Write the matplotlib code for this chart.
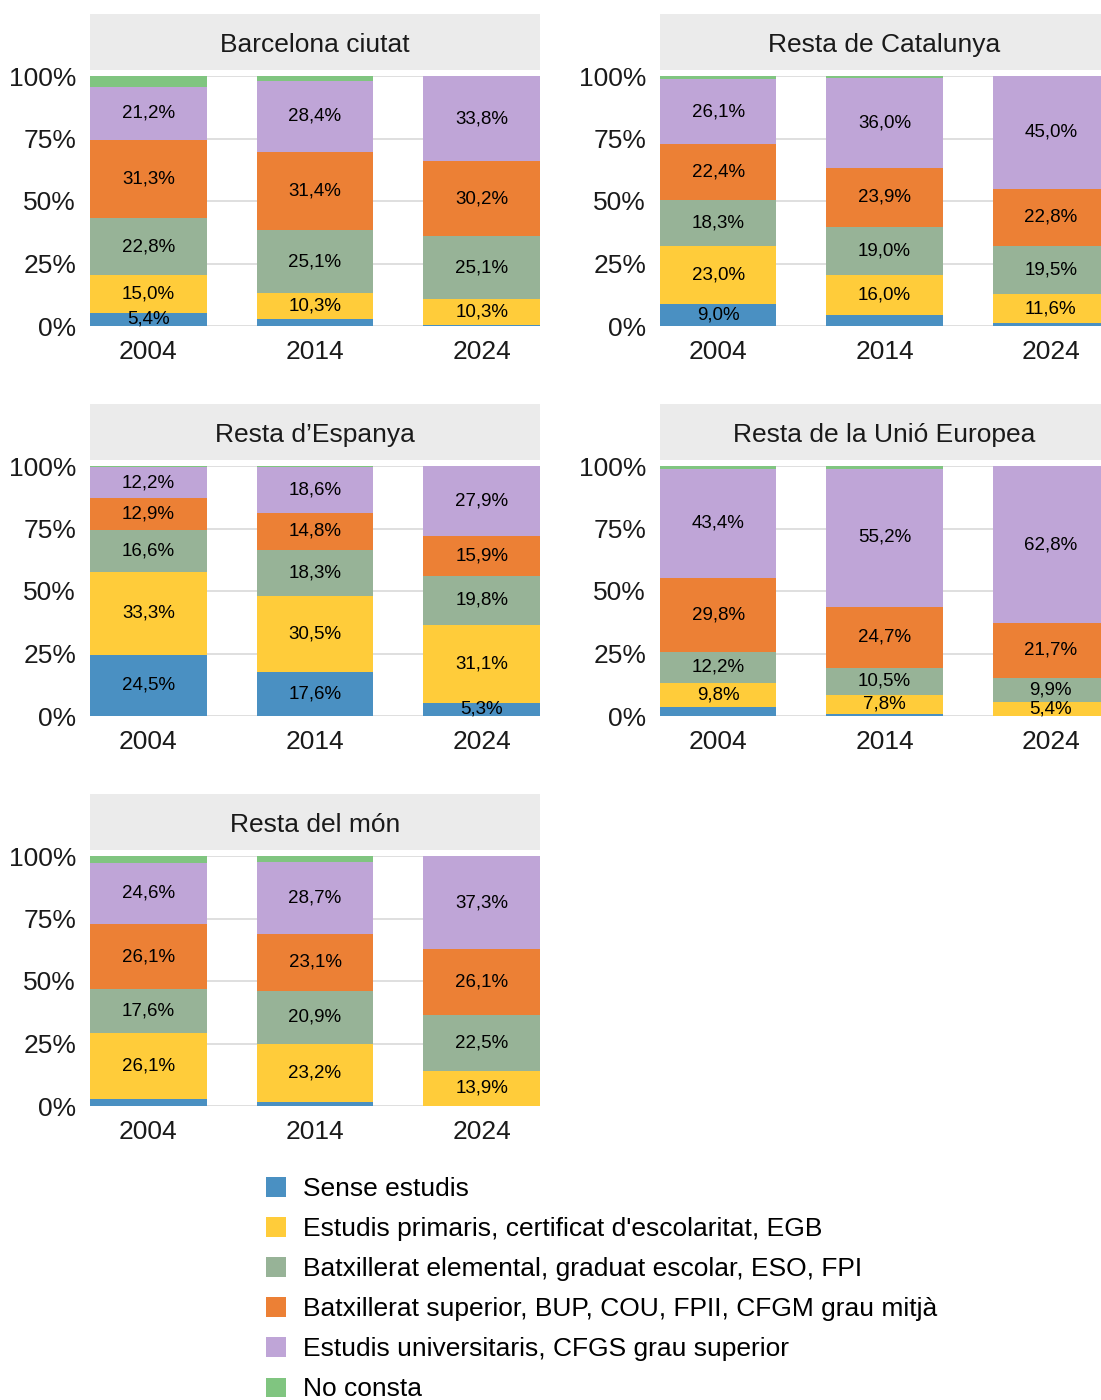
import numpy as np
import matplotlib
matplotlib.use('Agg')
import matplotlib.pyplot as plt
from matplotlib.patches import Patch

plt.rcParams['font.family'] = ['Liberation Sans', 'DejaVu Sans']

years = ['2004', '2014', '2024']

categories = ['Sense estudis',
              "Estudis primaris, certificat d'escolaritat, EGB",
              'Batxillerat elemental, graduat escolar, ESO, FPI',
              'Batxillerat superior, BUP, COU, FPII, CFGM grau mitjà',
              'Estudis universitaris, CFGS grau superior',
              'No consta']

colors = ['#4A90C2', '#FFCC3A', '#97B397', '#EC8035', '#BFA5D7', '#80C580']

regions = ['Barcelona ciutat', 'Resta de Catalunya', 'Resta d\u2019Espanya',
           'Resta de la Unió Europea', 'Resta del món']

# one row per category, one column per year (percent)
bcn_ciutat = [[5.4, 2.9, 0.5],
              [15.0, 10.3, 10.3],
              [22.8, 25.1, 25.1],
              [31.3, 31.4, 30.2],
              [21.2, 28.4, 33.8],
              [4.3, 1.9, 0.1]]

resta_cat = [[9.0, 4.5, 1.1],
             [23.0, 16.0, 11.6],
             [18.3, 19.0, 19.5],
             [22.4, 23.9, 22.8],
             [26.1, 36.0, 45.0],
             [1.2, 0.6, 0.0]]

resta_esp = [[24.5, 17.6, 5.3],
             [33.3, 30.5, 31.1],
             [16.6, 18.3, 19.8],
             [12.9, 14.8, 15.9],
             [12.2, 18.6, 27.9],
             [0.5, 0.2, 0.0]]

resta_ue = [[3.5, 0.8, 0.1],
            [9.8, 7.8, 5.4],
            [12.2, 10.5, 9.9],
            [29.8, 24.7, 21.7],
            [43.4, 55.2, 62.8],
            [1.3, 1.0, 0.1]]

resta_mon = [[3.0, 1.8, 0.2],
             [26.1, 23.2, 13.9],
             [17.6, 20.9, 22.5],
             [26.1, 23.1, 26.1],
             [24.6, 28.7, 37.3],
             [2.6, 2.3, 0.0]]

panel_data = [bcn_ciutat, resta_cat, resta_esp, resta_ue, resta_mon]

W, H = 1101, 1400
fig = plt.figure(figsize=(W / 100, H / 100), dpi=100)

# panel boxes in pixels: (left, right, top, bottom)
cols_px = [(90, 540), (660, 1109)]
rows_px = [(76, 326), (466, 716), (856, 1106)]

def px_rect(l, r, t, b):
    return [l / W, 1 - b / H, (r - l) / W, (b - t) / H]

for i, (name, data) in enumerate(zip(regions, panel_data)):
    l, r = cols_px[i % 2]
    t, b = rows_px[i // 2]
    ax = fig.add_axes(px_rect(l, r, t, b))
    data = np.array(data)
    x = np.arange(len(years))
    bottom = np.zeros(len(years))
    for k in range(len(categories)):
        ax.bar(x, data[k], width=0.7, bottom=bottom, color=colors[k],
               edgecolor='none', zorder=2)
        for j in range(len(years)):
            v = data[k, j]
            if v >= 5:
                ax.text(x[j], bottom[j] + v / 2, f'{v:.1f}'.replace('.', ',') + '%',
                        ha='center', va='center', fontsize=13.5, color='black', zorder=3)
        bottom += data[k]
    ax.set_xlim(-0.35, 2.35)
    ax.set_ylim(0, 100)
    ax.set_yticks([0, 25, 50, 75, 100])
    ax.set_yticklabels(['0%', '25%', '50%', '75%', '100%'])
    ax.set_xticks(x)
    ax.set_xticklabels(years)
    ax.tick_params(length=0, labelsize=19, labelcolor='#1A1A1A')
    ax.tick_params(axis='y', pad=10)
    ax.tick_params(axis='x', pad=10)
    ax.grid(axis='y', color='#DCDCDC', lw=1.3, zorder=0)
    ax.set_axisbelow(True)
    for s in ax.spines.values():
        s.set_visible(False)

    # facet strip
    sax = fig.add_axes(px_rect(l, r, t - 62, t - 6))
    sax.set_facecolor('#EBEBEB')
    sax.set_xticks([])
    sax.set_yticks([])
    for s in sax.spines.values():
        s.set_visible(False)
    sax.text(0.5, 0.45, name, ha='center', va='center', fontsize=19,
             color='#1A1A1A', transform=sax.transAxes)

handles = [Patch(facecolor=c, edgecolor='none') for c in colors]
fig.legend(handles, categories, loc='upper left',
           bbox_to_anchor=(266 / W, 1 - 1177 / H), frameon=False,
           fontsize=19, handlelength=0.76, handleheight=0.76,
           handletextpad=0.64, labelspacing=0.61, borderpad=0, borderaxespad=0)

fig.savefig('out.png', dpi=100, facecolor='white')
